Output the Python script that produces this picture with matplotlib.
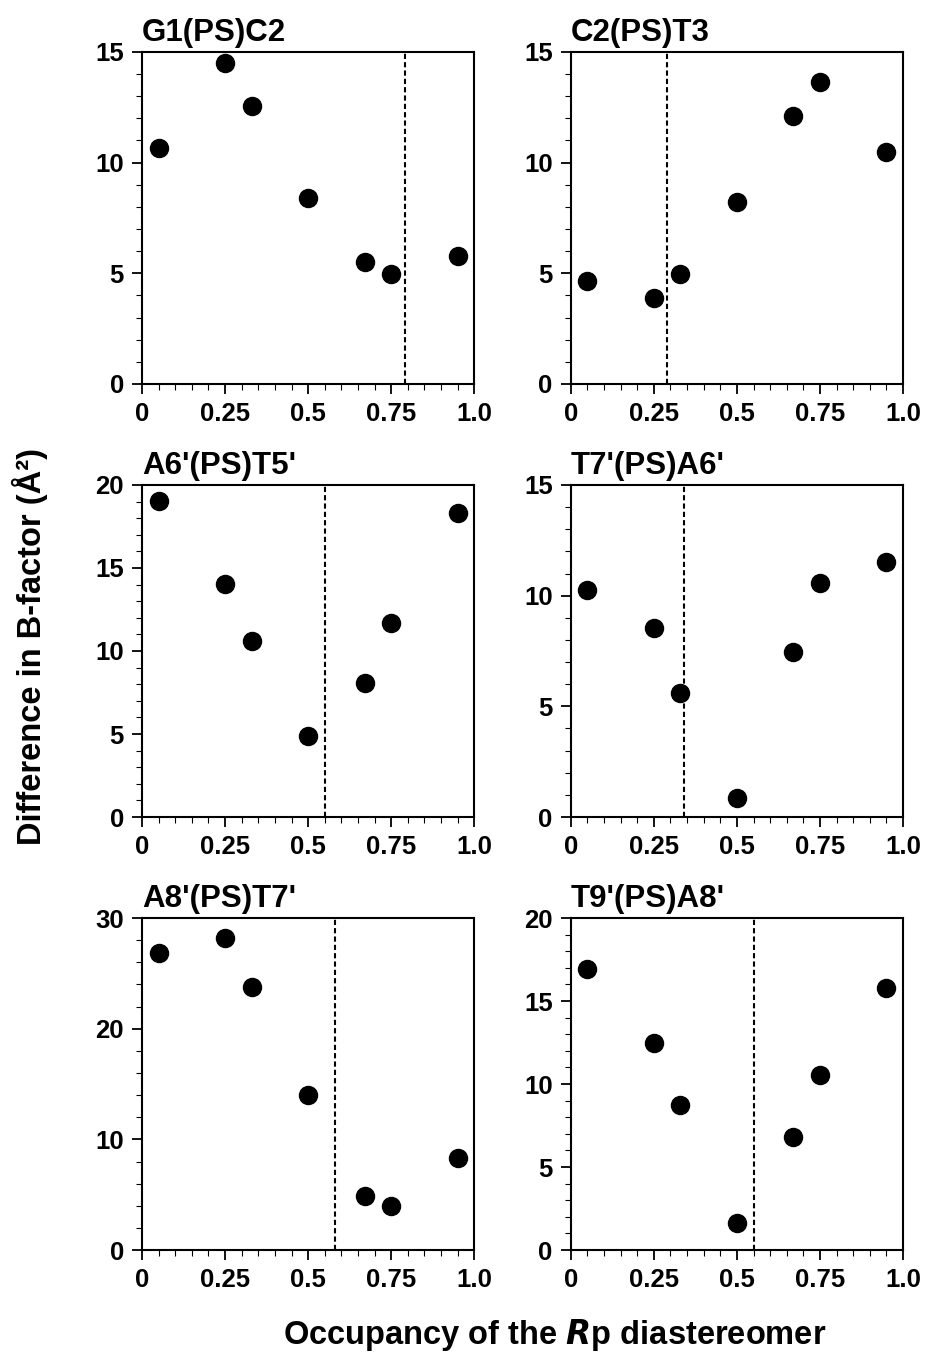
import numpy as np
import matplotlib
matplotlib.use('Agg')
import matplotlib.pyplot as plt
import matplotlib as mpl
from matplotlib.ticker import MultipleLocator, FixedLocator, FixedFormatter

mpl.rcParams['font.family'] = 'Liberation Sans'
mpl.rcParams['font.weight'] = 'bold'
mpl.rcParams['axes.linewidth'] = 1.5

'''Data'''
occupancy = [0.05, 0.25, 0.33, 0.5, 0.67, 0.75, 0.95]

titles = ["G1(PS)C2", "C2(PS)T3", "A6'(PS)T5'", "T7'(PS)A6'", "A8'(PS)T7'", "T9'(PS)A8'"]
g1_c2 = [10.65, 14.5, 12.55, 8.4, 5.5, 4.95, 5.8]
c2_t3 = [4.65, 3.9, 4.95, 8.2, 12.1, 13.65, 10.5]
a6_t5 = [19.05, 14.05, 10.6, 4.85, 8.05, 11.7, 18.3]
t7_a6 = [10.25, 8.55, 5.6, 0.85, 7.45, 10.55, 11.5]
a8_t7 = [26.8, 28.2, 23.8, 14.0, 4.9, 3.95, 8.35]
t9_a8 = [16.95, 12.5, 8.75, 1.6, 6.8, 10.55, 15.8]
series = [g1_c2, c2_t3, a6_t5, t7_a6, a8_t7, t9_a8]

crossover = [0.79, 0.29, 0.55, 0.34, 0.58, 0.55]   # dashed line positions
y_max = [15, 15, 20, 15, 30, 20]
y_major = [5, 5, 5, 5, 10, 5]
y_minor = [1, 1, 1, 1, 2, 1]

x_ticks = [0, 0.25, 0.5, 0.75, 1.0]
x_ticklabels = ['0', '0.25', '0.5', '0.75', '1.0']

fig = plt.figure(figsize=(9.31, 13.52), dpi=100)

lefts = [0.1525, 0.613]
bottoms = [0.716, 0.3957, 0.0754]
w, h = 0.357, 0.2456

for i in range(6):
    row, col = i // 2, i % 2
    ax = fig.add_axes([lefts[col], bottoms[row], w, h])
    ax.plot(occupancy, series[i], 'o', color='k', markersize=13, clip_on=False, zorder=3)
    ax.axvline(crossover[i], color='k', linestyle=(0, (2.5, 1.5)), linewidth=1.5)
    ax.set_xlim(0, 1.0)
    ax.set_ylim(0, y_max[i])
    ax.xaxis.set_major_locator(FixedLocator(x_ticks))
    ax.xaxis.set_major_formatter(FixedFormatter(x_ticklabels))
    ax.xaxis.set_minor_locator(MultipleLocator(0.05))
    ax.yaxis.set_major_locator(MultipleLocator(y_major[i]))
    ax.yaxis.set_minor_locator(MultipleLocator(y_minor[i]))
    ax.tick_params(which='major', direction='out', length=7, width=1.3, labelsize=18.5, pad=6)
    ax.tick_params(which='minor', direction='out', length=4, width=0.8)
    for lab in ax.get_xticklabels() + ax.get_yticklabels():
        lab.set_fontweight('bold')
    ax.set_title(titles[i], loc='left', fontsize=22.5, fontweight='bold', pad=8)

fig.text(0.032, 0.522, 'Difference in B-factor (Å²)', rotation=90,
         ha='center', va='center', fontsize=23.5, fontweight='bold')
fig.text(0.596, 0.0126, 'Occupancy of the $\\boldsymbol{R}$p diastereomer', ha='center', va='center',
         fontsize=23.5, fontweight='bold')

fig.savefig('out.png', dpi=100)
